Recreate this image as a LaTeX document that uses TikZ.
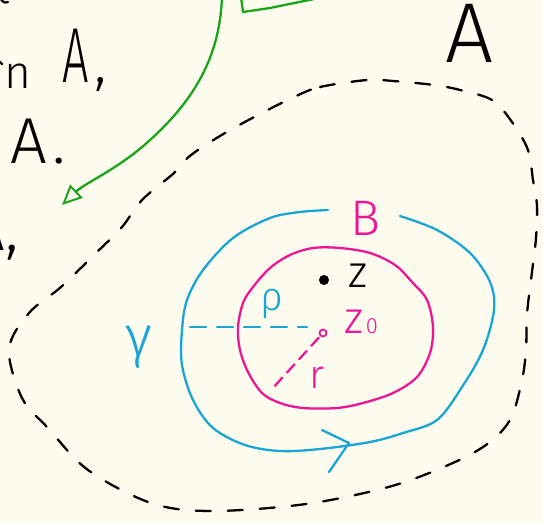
\documentclass[tikz,border=0pt]{standalone}
\usepackage{fontspec}
\newfontfamily\hand{Fira Sans Light}
\usetikzlibrary{arrows.meta}
\definecolor{paper}{HTML}{FDFCEE}
\definecolor{pblue}{HTML}{19A6D6}
\definecolor{pmag}{HTML}{EE1697}
\definecolor{pgreen}{HTML}{1AA51A}
\tikzset{
  ink/.style={line width=2.3pt, line cap=round, line join=round},
  lbl/.style={inner sep=0pt, outer sep=0pt},
}
\newcommand{\fsz}[1]{\hand\fontsize{#1}{#1}\selectfont}
\begin{document}
\begin{tikzpicture}[x=1pt,y=-1pt]
\useasboundingbox (0,0) rectangle (543,522);
\fill[paper] (0,0) rectangle (543,522);
\clip (0,0) rectangle (543,522);

% left, cut-off texts
\node[lbl, anchor=base west, font=\fsz{78}] (a1) at (62,82) {\scalebox{0.6}[1]{A}\hspace{6pt}{\fsz{60},}};
\node[lbl, anchor=base west, font=\fsz{65}] (a2) at (10,163) {A\hspace{6pt}.};
\node[lbl, anchor=base west, font=\fsz{65}] (a3) at (-31,250) {A,};
\node[lbl, anchor=base west, font=\fsz{46}] (nn) at (5,88) {n};
\draw[ink] (0,-2) .. controls (4,3) .. (8,2);
\draw[ink] (0,62) -- (2,64);
% right A
\node[lbl, anchor=base, font=\fsz{85}] (a4) at (470,62) {A};

% green arrow and bracket
\coordinate (gstart) at (222,-3);
\coordinate (gtip) at (62,205);
\draw[ink, pgreen, -{Triangle[open, length=20pt, width=18pt, line width=2pt]}]
  (gstart) .. controls (220,50) and (200,95) .. (150,140)
           .. controls (120,168) and (85,183) .. (gtip);
\draw[ink, pgreen] (241,-3) -- (243,12) -- (270,8) -- (314,-1);

% dashed big loop
\draw[ink, dash pattern=on 15pt off 17pt] plot[smooth cycle, tension=0.55] coordinates {
 (294,97) (320,87) (367,80) (393,81) (434,85) (460,90) (492,100) (512,122)
 (528,150) (533,180) (537,206) (536,238) (532,272) (527,314) (526,350)
 (522,380) (511,418) (490,442) (455,462) (392,486) (306,504) (211,511)
 (151,503) (88,470) (48,428) (22,398) (9,349) (29,313) (61,287) (96,253)
 (122,227) (142,200) (174,173) (191,155) (225,133) (260,114)};

% blue curve gamma (gap at top for B)
\draw[ink, pblue] plot[smooth, tension=0.55] coordinates {
 (328,210) (300,212) (270,218) (233,238) (203,270) (187,300) (182,330)
 (182,365) (193,400) (213,428) (245,445) (280,451) (320,449) (370,442)
 (403,433) (437,420) (462,387) (483,350) (494,310) (490,282) (470,253)
 (437,230) (400,216)};
\draw[ink, pblue] (322,430) -- (349,443) -- (329,472);

% magenta disc boundary
\draw[ink, pmag] plot[smooth cycle, tension=0.55] coordinates {
 (313,248) (340,248) (370,253) (395,265) (412,282) (427,300) (433,327)
 (430,353) (417,377) (393,393) (363,403) (337,408) (303,408) (280,403)
 (262,393) (248,372) (240,350) (238,327) (243,303) (253,287) (270,268)
 (290,255)};

% points
\node[circle, fill=black, inner sep=0pt, minimum size=10pt] (zdot) at (324,280) {};
\node[circle, draw=pmag, line width=1.8pt, inner sep=0pt, minimum size=7pt] (z0) at (323,333) {};

% radius lines
\coordinate (rhostart) at (190,327);
\coordinate (rhoend) at (307,327);
\draw[ink, pblue, dash pattern=on 16pt off 11pt] (rhostart) -- (rhoend);
\coordinate (rend) at (272,389);
\draw[ink, pmag, dash pattern=on 11pt off 7pt, shorten <=2pt] (z0) -- (rend);

% labels
\node[lbl, text=pmag, font=\fsz{50}] (lB) at (365,218) {B};
\node[lbl, font=\fsz{45}] (lz) at (358,276) {z};
\node[lbl, text=pmag, anchor=base west, font=\fsz{45}] (lz0) at (344,333) {z\hspace{3pt}{\fsz{22}0}};
\node[lbl, text=pmag, font=\fsz{40}] (lr) at (317,378) {r};
\node[lbl, text=pblue, font=\fsz{40}] (lrho) at (272,304) {ρ};
\node[lbl, text=pblue, font=\fsz{58}] (lgamma) at (139,347) {γ};
\end{tikzpicture}
\end{document}
